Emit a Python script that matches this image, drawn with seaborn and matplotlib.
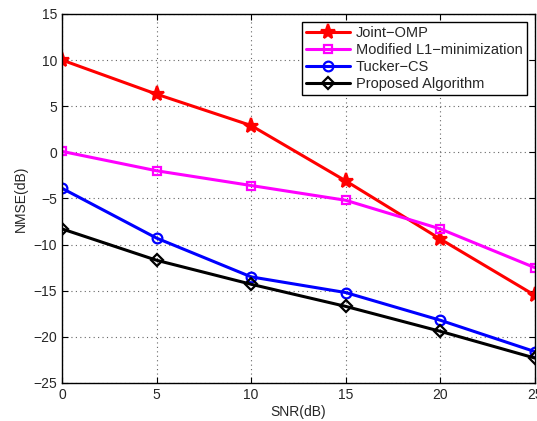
import matplotlib
matplotlib.use('Agg')
import matplotlib.pyplot as plt
import pandas as pd
import seaborn as sns

# Data
snr = [0, 5, 10, 15, 20, 25]
joint_omp = [10.0, 6.3, 2.9, -3.1, -9.4, -15.5]
modified_l1 = [0.1, -2.0, -3.6, -5.2, -8.3, -12.5]
tucker_cs = [-3.9, -9.3, -13.5, -15.2, -18.2, -21.6]
proposed = [-8.3, -11.7, -14.3, -16.7, -19.4, -22.3]

series_names = ['Joint\u2212OMP', 'Modified L1\u2212minimization',
                'Tucker\u2212CS', 'Proposed Algorithm']
series_values = [joint_omp, modified_l1, tucker_cs, proposed]
colors = ['red', 'magenta', 'blue', 'black']
markers = ['*', 's', 'o', 'D']
marker_sizes = [11, 6, 7, 6]

df = pd.DataFrame({
    'SNR': snr * len(series_names),
    'NMSE': sum(series_values, []),
    'Method': [n for n in series_names for _ in snr],
})

sns.set_style('ticks')
plt.rcParams['font.family'] = ['Liberation Sans', 'DejaVu Sans']

fig = plt.figure(figsize=(5.37, 4.21), dpi=100)
ax = fig.add_axes([0.1155, 0.0903, 0.8805, 0.8767])

for name, c, m, ms in zip(series_names, colors, markers, marker_sizes):
    sub = df[df['Method'] == name]
    sns.lineplot(data=sub, x='SNR', y='NMSE', ax=ax, color=c, marker=m,
                 markersize=ms, linewidth=2.2, label=name,
                 markerfacecolor=c if m == '*' else 'none',
                 markeredgecolor=c, markeredgewidth=1.6)

ax.set_xlim(0, 25)
ax.set_ylim(-25, 15)
ax.set_xticks(snr)
ax.set_yticks(range(-25, 16, 5))
ax.set_xticklabels([str(v) for v in snr])
ax.set_yticklabels([str(v).replace('-', '\u2212') for v in range(-25, 16, 5)])
ax.grid(True, linestyle=(0, (1, 3)), color='#666666', linewidth=0.8)
ax.tick_params(direction='in', labelsize=10, length=4, top=True, right=True,
               color='black')
for s in ax.spines.values():
    s.set_color('black')
    s.set_linewidth(1.0)
ax.set_xlabel('SNR(dB)', fontsize=10, labelpad=2)
ax.set_ylabel('NMSE(dB)', fontsize=10)

leg = ax.legend(loc='upper right', fontsize=10.5, frameon=True, fancybox=False,
                edgecolor='black', framealpha=1, borderpad=0.3,
                handlelength=3.0, handletextpad=0.4, labelspacing=0.2,
                borderaxespad=0.55)
leg.get_frame().set_linewidth(1.0)

fig.savefig('out.png', dpi=100)
